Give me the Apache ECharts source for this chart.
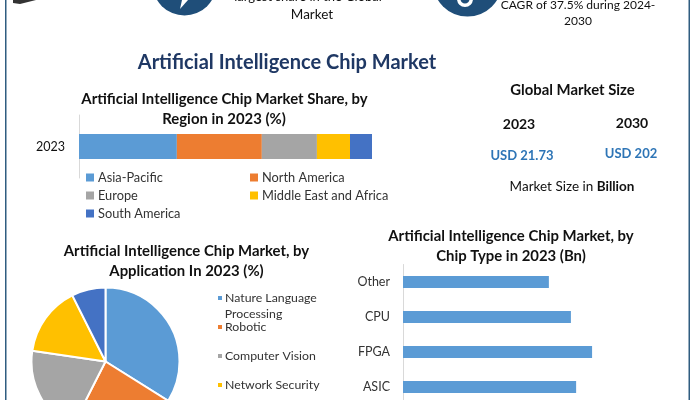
<!DOCTYPE html>
<html><head><meta charset="utf-8">
<style>html,body{margin:0;padding:0;background:#fff}#c{width:695px;height:400px}</style>
<script src="https://cdn.jsdelivr.net/npm/echarts@6/dist/echarts.min.js"></script>
</head><body><div id="c"></div>
<script>
var regionNames = ['Asia-Pacific','North America','Europe','Middle East and Africa','South America'];
var regionValues = [33.4,29,18.8,11.3,7.5];
var regionYear = ['2023'];
var appNames = ['Nature Language Processing','Robotic','Computer Vision','Network Security','Other'];
var appValues = [33.9,23.6,19.8,15.3,7.4];
var chipTypes = ['ASIC','FPGA','CPU','Other'];
var chipValues = [5.97,6.52,5.79,5.03];
var palette = ['#5B9BD5','#ED7D31','#A5A5A5','#FFC000','#4472C4'];
var FONT = 'Lato';
var chart = echarts.init(document.getElementById('c'), null, {renderer:'canvas'});

function txt(text,x,y,size,weight,color,extra){
  return Object.assign({text:text,left:x,top:y,textAlign:'center',textVerticalAlign:'middle',padding:0,
    textStyle:{fontFamily:FONT,fontSize:size,fontWeight:weight,color:color}},extra||{});
}
var T='#111', S=14.9;
var titles=[
  txt('largest share in the Global',308,-3,13,'normal',T),
  txt('Market',312,15,13.5,'normal',T),
  txt('CAGR of 37.5% during 2024-',578,5,12,'normal',T),
  txt('2030',578,21.5,12,'normal',T),
  txt('Artificial Intelligence Chip Market',287,62.5,20,'bold','#1F3864'),
  txt('Artificial Intelligence Chip Market Share, by',224.5,99,S,'bold',T),
  txt('Region in 2023 (%)',224,119,S,'bold',T),
  txt('Artificial Intelligence Chip Market, by',186.5,251,S,'bold',T),
  txt('Application In 2023 (%)',186.5,271,S,'bold',T),
  txt('Artificial Intelligence Chip Market, by',511,236,S,'bold',T),
  txt('Chip Type in 2023 (Bn)',511,256,S,'bold',T),
  txt('Global Market Size',572.5,90.5,S,'bold',T),
  txt('2023',519,124.5,14,'bold',T),
  txt('2030',632,123.5,14,'bold',T),
  txt('USD 21.73',522,155.5,13,'bold','#2E75B6'),
  txt('USD 202',631,153.5,13,'bold','#2E75B6'),
  {text:'Market Size in {b|Billion}',left:572,top:186.5,textAlign:'center',textVerticalAlign:'middle',padding:0,
   textStyle:{fontFamily:FONT,fontSize:13.5,fontWeight:'normal',color:T,rich:{b:{fontFamily:FONT,fontSize:13.5,fontWeight:'bold',color:T}}}},
  txt('Processing',253.5,314.5,12.3,'normal','#333')
];
function leg(name,x,y,icon,size,pad,fmt){
  return {show:true,left:x,top:y,selectedMode:false,data:[{name:name,icon:'rect'}],itemWidth:icon,itemHeight:icon,padding:0,
    formatter:fmt||undefined,
    textStyle:{fontFamily:FONT,fontSize:size,color:'#333',padding:[0,0,0,pad]}};
}
var legends=[
  leg(regionNames[0],86,171,8,12.8,-1),
  leg(regionNames[1],250,171,8,12.8,-1),
  leg(regionNames[2],86,189,8,12.8,-1),
  leg(regionNames[3],250,189,8,12.8,-1),
  leg(regionNames[4],86,207,8,12.8,-1),
  leg(appNames[0],216,292,6,12.3,-3,function(){return 'Nature Language';}),
  leg(appNames[1],216,321,6,12.3,-3),
  leg(appNames[2],216,350,6,12.3,-3),
  leg(appNames[3],216,379,6,12.3,-3)
];
var series=regionNames.map(function(n,i){
  return {type:'bar',name:n,stack:'r',xAxisIndex:0,yAxisIndex:0,barWidth:25,data:[regionValues[i]],itemStyle:{color:palette[i]},silent:true};
});
series.push({type:'pie',center:[105.5,361.5],radius:[0,74],data:appNames.map(function(n,i){return {name:n,value:appValues[i],itemStyle:{color:palette[i]}};}),
  label:{show:false},labelLine:{show:false},itemStyle:{borderColor:'#fff',borderWidth:2},silent:true,animation:false});
series.push({type:'bar',xAxisIndex:1,yAxisIndex:1,barWidth:12,data:chipValues,itemStyle:{color:palette[0]},silent:true});

chart.setOption({
  animation:false,backgroundColor:'#fff',
  title:titles,legend:legends,
  grid:[{left:79,top:115,width:293,height:63,outerBoundsMode:'none'},{left:403,top:264.5,width:290,height:140,outerBoundsMode:'none'}],
  xAxis:[{type:'value',gridIndex:0,min:0,max:100,show:false},{type:'value',gridIndex:1,min:0,max:10,show:false}],
  yAxis:[
    {type:'category',gridIndex:0,data:regionYear,axisTick:{show:false},axisLine:{lineStyle:{color:'#D9D9D9'}},
     axisLabel:{fontFamily:FONT,fontSize:12.5,color:'#111',margin:14}},
    {type:'category',gridIndex:1,data:chipTypes,axisTick:{show:false},axisLine:{lineStyle:{color:'#D9D9D9'}},
     axisLabel:{fontFamily:FONT,fontSize:12.5,color:'#333',margin:13}}
  ],
  series:series,
  graphic:[
    {type:'rect',shape:{x:5,y:0,width:1.5,height:400},style:{fill:'#2F5D80'},silent:true},
    {type:'rect',shape:{x:688.5,y:0,width:1.5,height:400},style:{fill:'#2F5D80'},silent:true},
    {type:'circle',shape:{cx:184.5,cy:-16.5,r:32},style:{fill:'#1F4E79'},silent:true},
    {type:'polygon',shape:{points:[[180,9],[182,0],[188,0]]},style:{fill:'#fff'},silent:true},
    {type:'circle',shape:{cx:467.5,cy:-18,r:34.6},style:{fill:'#1F4E79'},silent:true},
    {type:'sector',shape:{cx:465,cy:-1,r:8,r0:4.5,startAngle:0,endAngle:Math.PI},style:{fill:'#fff'},silent:true},
    {type:'polygon',shape:{points:[[13,3],[20,4],[36,0],[13,0]]},style:{fill:'#333'},silent:true}
  ]
});
</script></body></html>
